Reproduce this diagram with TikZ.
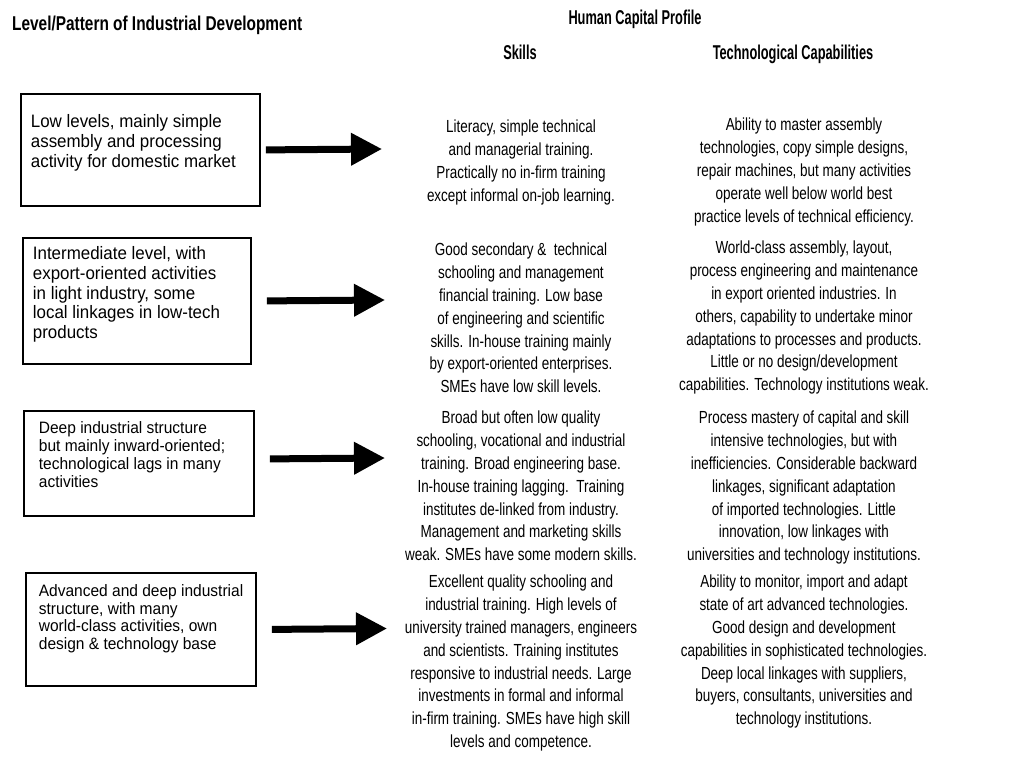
\documentclass[tikz,border=0pt]{standalone}
\usepackage{fontspec}
\setmainfont{Liberation Sans}
\newfontfamily\colfont{Liberation Sans}[FakeStretch=0.77]
\newfontfamily\boxfont{Liberation Sans}[FakeStretch=0.94]
\newfontfamily\hdrfont{Liberation Sans}[FakeStretch=0.64]
\newfontfamily\hdrLfont{Liberation Sans}[FakeStretch=0.77]
\usetikzlibrary{arrows.meta}
% height, width, top gap, left gap, font, text
\newcommand{\boxcontent}[6]{\parbox[c][#1][t]{#2}{\vspace*{#3}\raggedright\leftskip=#4\relax #5 #6}}
\tikzset{
  lvlbox/.style={draw, line width=1.8pt, inner sep=0pt, anchor=north west},
  coltext/.style={anchor=north, inner sep=0pt, align=center, font=\colfont\fontsize{17.5}{22.8}\selectfont},
  hdr/.style={inner sep=0pt, anchor=base, font=\hdrfont\bfseries\fontsize{20}{24}\selectfont},
  bigarrow/.style={line width=7pt, -{Triangle[length=31pt,width=31pt]}},
}
\begin{document}
\begin{tikzpicture}[x=1pt,y=-1pt]
\useasboundingbox (0,0) rectangle (1026,760);
% headers
\node[hdr, font=\hdrLfont\bfseries\fontsize{20}{24}\selectfont, anchor=base west] (hL) at (12,31) {Level/Pattern of Industrial Development};
\node[hdr] (hH) at (635,25) {Human Capital Profile};
\node[hdr] (hS) at (520,60) {Skills};
\node[hdr] (hT) at (793,60) {Technological Capabilities};
% boxes
\node[lvlbox] (b1) at (20,93) {\boxcontent{112pt}{239pt}{21pt}{10pt}{\boxfont\fontsize{18}{20}\selectfont}{Low levels, mainly simple\\assembly and processing\\activity for domestic market}};
\node[lvlbox] (b2) at (22,237) {\boxcontent{126pt}{228pt}{9pt}{10pt}{\boxfont\fontsize{18}{19.6}\selectfont}{Intermediate level, with\\export-oriented activities\\in light industry, some\\local linkages in low-tech\\products}};
\node[lvlbox] (b3) at (23,410) {\boxcontent{105pt}{230pt}{11pt}{15pt}{\boxfont\fontsize{16.5}{17.8}\selectfont}{Deep industrial structure\\but mainly inward-oriented;\\technological lags in many\\activities}};
\node[lvlbox] (b4) at (25,572) {\boxcontent{113pt}{230pt}{12pt}{13pt}{\boxfont\fontsize{16.5}{17.5}\selectfont}{Advanced and deep industrial\\structure, with many\\world-class activities, own\\design \& technology base}};
% arrow tips
\coordinate (e1) at (382,149);
\coordinate (e2) at (385,300);
\coordinate (e3) at (385,458);
\coordinate (e4) at (387,628.5);
\draw[bigarrow] ([xshift=5pt]b1.east) -- (e1);
\draw[bigarrow] ([xshift=15pt]b2.east) -- (e2);
\draw[bigarrow] ([xshift=15pt,yshift=4.5pt]b3.east) -- (e3);
\draw[bigarrow] ([xshift=15pt]b4.east) -- (e4);
% skills column
\node[coltext] (s1) at (521,120) {Literacy, simple technical\\and managerial training.\\Practically no in-firm training\\except informal on-job learning.};
\node[coltext] (s2) at (521,243) {Good secondary \&\ \ technical\\schooling and management\\financial training. Low base\\of engineering and scientific\\skills. In-house training mainly\\by export-oriented enterprises.\\SMEs have low skill levels.};
\node[coltext] (s3) at (521,411) {Broad but often low quality\\schooling, vocational and industrial\\training. Broad engineering base.\\In-house training lagging.\ \ Training\\institutes de-linked from industry.\\Management and marketing skills\\weak. SMEs have some modern skills.};
\node[coltext] (s4) at (521,575) {Excellent quality schooling and\\industrial training. High levels of\\university trained managers, engineers\\and scientists. Training institutes\\responsive to industrial needs. Large\\investments in formal and informal\\in-firm training. SMEs have high skill\\levels and competence.};
% technological capabilities column
\node[coltext] (t1) at (804,118) {Ability to master assembly\\technologies, copy simple designs,\\repair machines, but many activities\\operate well below world best\\practice levels of technical efficiency.};
\node[coltext] (t2) at (804,241) {World-class assembly, layout,\\process engineering and maintenance\\in export oriented industries. In\\others, capability to undertake minor\\adaptations to processes and products.\\Little or no design/development\\capabilities. Technology institutions weak.};
\node[coltext] (t3) at (804,411) {Process mastery of capital and skill\\intensive technologies, but with\\inefficiencies. Considerable backward\\linkages, significant adaptation\\of imported technologies. Little\\innovation, low linkages with\\universities and technology institutions.};
\node[coltext] (t4) at (804,575) {Ability to monitor, import and adapt\\state of art advanced technologies.\\Good design and development\\capabilities in sophisticated technologies.\\Deep local linkages with suppliers,\\buyers, consultants, universities and\\technology institutions.};
\end{tikzpicture}
\end{document}
